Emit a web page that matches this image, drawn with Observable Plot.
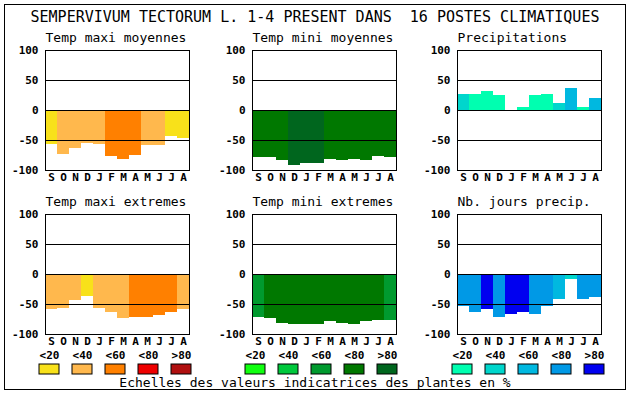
<!DOCTYPE html>
<html><head><meta charset="utf-8">
<script src="https://cdn.jsdelivr.net/npm/d3@7"></script>
<script src="https://cdn.jsdelivr.net/npm/@observablehq/plot@0.6"></script>
<style>
body{margin:0;background:#fff;}
#chart{position:relative;width:630px;height:394px;background:#fff;overflow:hidden;font-family:"DejaVu Sans Mono",monospace;color:#000;}
#chart > *{position:absolute;}
#border{left:4px;top:4px;width:622px;height:386px;box-sizing:border-box;border:1px solid #000;}
#title{left:0;width:630px;top:10px;text-align:center;font-size:15px;line-height:15px;white-space:pre;}
#caption{left:0;width:630px;top:376px;text-align:center;font-size:13px;line-height:13px;white-space:pre;}
</style></head><body><div id="chart"><div id="border"></div></div>
<script>
const months = ["S","O","N","D","J","F","M","A","M","J","J","A"];
const classLabels = ["<20","<40","<60","<80",">80"];
const yTicks = [-100,-50,0,50,100];
const gridLines = [-50,0,50];
const mainTitle = "SEMPERVIVUM TECTORUM L. 1-4 PRESENT DANS  16 POSTES CLIMATIQUES";
const captionText = "Echelles des valeurs indicatrices des plantes en %";

const palMax  = ["#f8e11a","#ffb84d","#ff8000","#ee0000","#b01010"];
const palMin  = ["#10ff10","#00c83c","#009a2e","#007800","#00661e"];
const palPrec = ["#00ffb0","#00d6cc","#00b8e0","#0099e6","#0000f0"];

const tmaxMoyTitle = "Temp maxi moyennes";
const tmaxMoyValues = [-56,-73,-63,-55,-56,-76,-81,-75,-58,-58,-44,-46];
const tmaxMoyClass  = [0,1,1,1,1,2,2,2,1,1,0,0];

const tminMoyTitle = "Temp mini moyennes";
const tminMoyValues = [-78,-78,-84,-91,-88,-88,-81,-84,-81,-83,-76,-78];
const tminMoyClass  = [3,3,3,4,4,4,3,3,3,3,3,3];

const precTitle = "Precipitations";
const precValues = [27,27,31,25,0,5,25,27,12,37,5,20];
const precClass  = [1,0,0,0,0,0,0,0,1,2,0,2];

const tmaxExtTitle = "Temp maxi extremes";
const tmaxExtValues = [-58,-56,-43,-36,-56,-64,-74,-71,-71,-68,-64,-58];
const tmaxExtClass  = [1,1,1,0,1,1,1,2,2,2,2,1];

const tminExtTitle = "Temp mini extremes";
const tminExtValues = [-71,-74,-81,-84,-83,-83,-78,-81,-83,-78,-76,-76];
const tminExtClass  = [2,3,3,3,3,3,3,3,3,3,3,2];

const joursTitle = "Nb. jours precip.";
const joursValues = [-53,-63,-58,-71,-66,-64,-66,-54,-41,-8,-41,-38];
const joursClass  = [3,3,4,3,4,4,3,3,2,1,3,3];

const chart = document.getElementById("chart");

function place(el, left, top) {
  el.style.position = "absolute";
  el.style.left = left + "px";
  el.style.top = top + "px";
  chart.appendChild(el);
}

function panel(title, values, classes, palette, left, top) {
  const data = values.map((v, i) => ({i, v, c: classes[i]}));
  const svg = Plot.plot({
    width: 192, height: 158,
    marginLeft: 42, marginRight: 6, marginTop: 22, marginBottom: 16,
    style: {fontFamily: "DejaVu Sans Mono", fontSize: "11px", fontWeight: "bold", background: "transparent", color: "black", overflow: "visible"},
    x: {type: "band", domain: d3.range(12), padding: 0, tickFormat: i => months[i], tickSize: 0, tickPadding: 3, label: null},
    y: {domain: [-100, 100], ticks: yTicks, tickFormat: d => String(d), tickSize: 0, tickPadding: 7, label: null},
    color: {type: "ordinal", domain: d3.range(5), range: palette},
    marks: [
      Plot.barY(data, {x: "i", y: "v", fill: "c", shapeRendering: "crispEdges"}),
      Plot.ruleY(gridLines, {stroke: "black"}),
      Plot.frame({stroke: "black"}),
      Plot.text([title], {text: d => d, frameAnchor: "top-left", lineAnchor: "bottom", textAnchor: "start", dy: -9, fontSize: 13, fontWeight: "normal"})
    ]
  });
  place(svg, left, top);
}

function legend(palette, left) {
  const data = classLabels.map((l, i) => ({l, i}));
  const svg = Plot.plot({
    width: 152, height: 27,
    marginLeft: 0, marginRight: 0, marginTop: 16, marginBottom: 1,
    style: {fontFamily: "DejaVu Sans Mono", fontSize: "11px", fontWeight: "bold", background: "transparent", color: "black", overflow: "visible"},
    x: {type: "band", domain: classLabels, paddingInner: 0.394, paddingOuter: 0, axis: null},
    color: {type: "ordinal", domain: classLabels, range: palette},
    marks: [
      Plot.cell(data, {x: "l", fill: "l", stroke: "black"}),
      Plot.text(data, {x: "l", text: "l", frameAnchor: "top", lineAnchor: "bottom", dy: -6})
    ]
  });
  place(svg, left, 348);
}

panel(tmaxMoyTitle, tmaxMoyValues, tmaxMoyClass, palMax, 3, 28);
panel(tminMoyTitle, tminMoyValues, tminMoyClass, palMin, 210, 28);
panel(precTitle, precValues, precClass, palPrec, 415, 28);
panel(tmaxExtTitle, tmaxExtValues, tmaxExtClass, palMax, 3, 192);
panel(tminExtTitle, tminExtValues, tminExtClass, palMin, 210, 192);
panel(joursTitle, joursValues, joursClass, palPrec, 415, 192);

legend(palMax, 39);
legend(palMin, 245);
legend(palPrec, 452);

const t = document.createElement("div");
t.id = "title"; t.textContent = mainTitle; chart.appendChild(t);
const c = document.createElement("div");
c.id = "caption"; c.textContent = captionText; chart.appendChild(c);
</script></body></html>
